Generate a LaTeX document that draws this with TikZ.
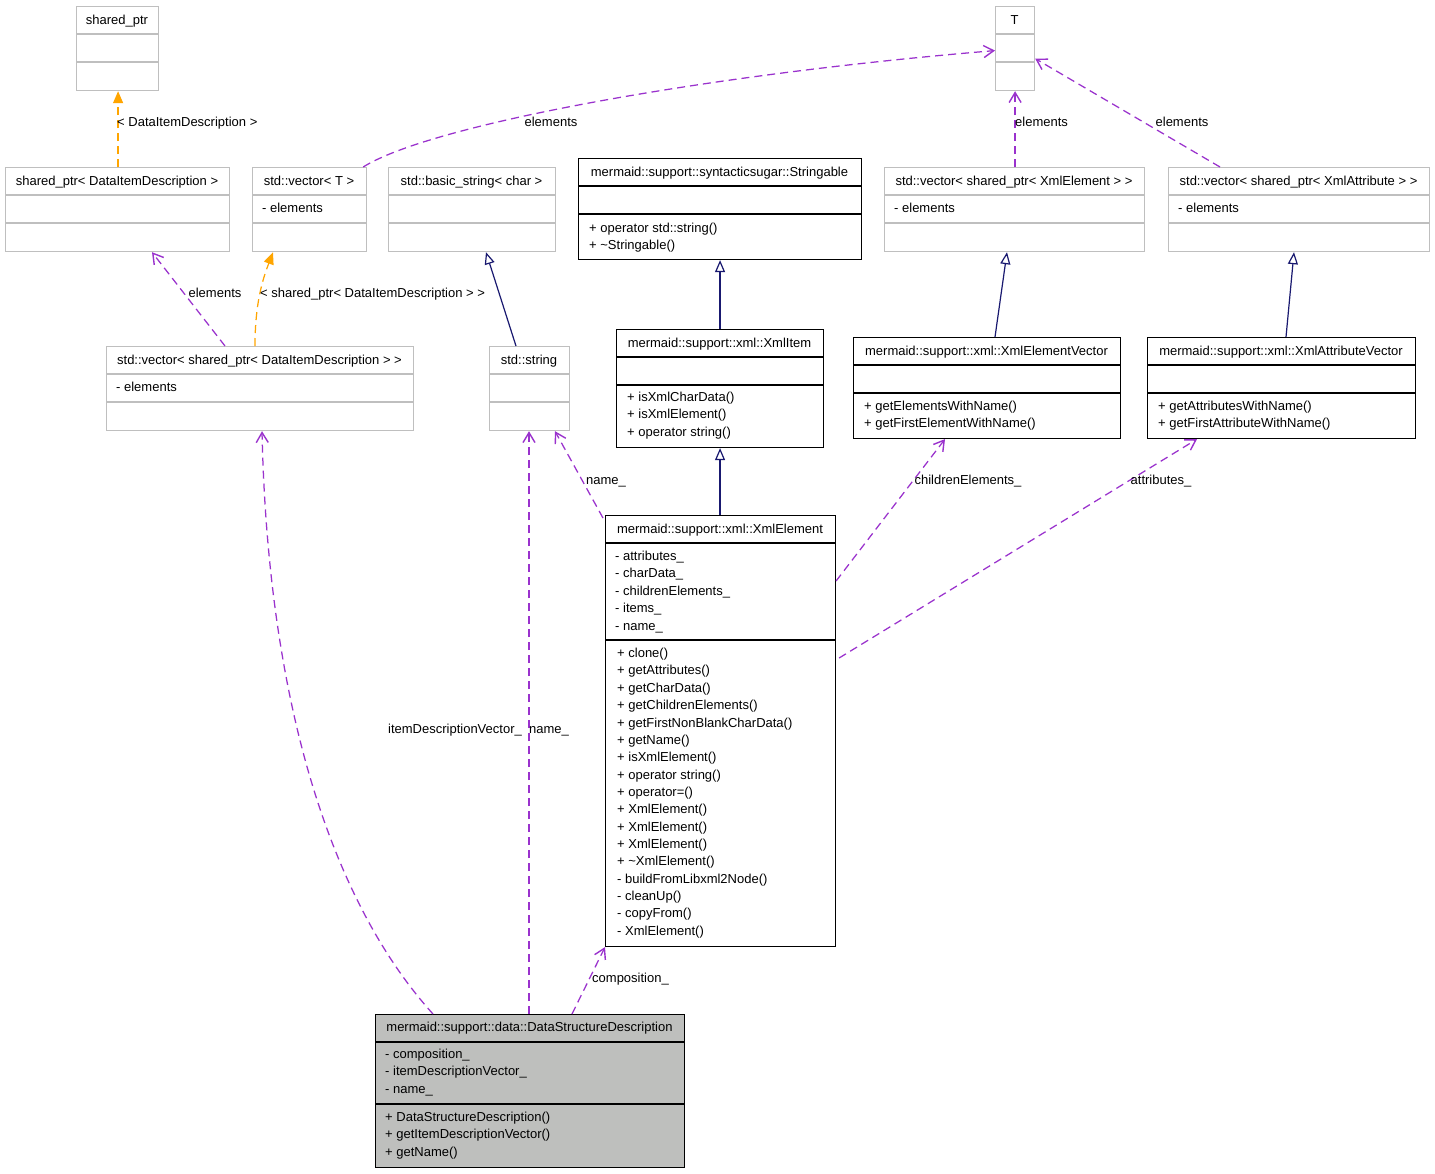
\documentclass[tikz,border=0pt]{standalone}
\usepackage{fontspec}
\setmainfont{Liberation Sans}
\usetikzlibrary{arrows.meta,calc}
\definecolor{purp}{HTML}{9A32CD}
\definecolor{orng}{HTML}{FFA500}
\definecolor{navyc}{HTML}{191970}
\definecolor{boxgray}{HTML}{BFBFBF}
\definecolor{dsdfill}{HTML}{BEBFBD}
\newcommand\cbox[8]{%
  \node[#2, minimum width=#5pt, minimum height=#6pt] (#1) at (#3,#4) {};
  \draw[#2line] ($(#1.north west)+(0,#7)$) -- ($(#1.north east)+(0,#7)$);
  \draw[#2line] ($(#1.north west)+(0,#8)$) -- ($(#1.north east)+(0,#8)$);}
\newcommand\mlines[4]{%
  \foreach \mtext [count=\i] in {#4} {\node[lbl, anchor=west] (#1\i) at (#2, {#3+(\i-1)*17.35}) {\mtext};}}
\begin{document}
\begin{tikzpicture}[x=1pt,y=-1pt,
  lbl/.style={font=\fontsize{13}{15}\selectfont, inner sep=0pt, text height=9.3pt, text depth=2.7pt, yshift=-1.3pt},
  graybox/.style={draw=boxgray, line width=1.2pt, rectangle, inner sep=0pt, anchor=north west},
  grayboxline/.style={draw=boxgray, line width=1.2pt},
  blackbox/.style={draw=black, line width=1.1pt, rectangle, inner sep=0pt, anchor=north west},
  blackboxline/.style={draw=black, line width=1.1pt},
  dsdbox/.style={draw=black, fill=dsdfill, line width=1.1pt, rectangle, inner sep=0pt, anchor=north west},
  dsdboxline/.style={draw=black, line width=1.1pt},
  usage/.style={draw=purp, line width=1.25pt, dash pattern=on 8pt off 5pt, -{Straight Barb[length=10pt,width=12pt,line width=1.4pt]}},
  tmpl/.style={draw=orng, line width=1.25pt, dash pattern=on 8pt off 5pt, -{Triangle[length=12pt,width=10pt,fill=orng]}},
  inh/.style={draw=navyc, line width=1.2pt, -{Triangle[open,length=12pt,width=10pt,fill=white]}}]
\fill[white] (0,0) rectangle (1435,1173);
\useasboundingbox (0,0) rectangle (1435,1173);

% ---- boxes
\cbox{sp}{graybox}{76}{6}{82}{84}{28}{56}
\cbox{spd}{graybox}{5}{167}{224}{84}{28}{56}
\cbox{vecT}{graybox}{252}{167}{114}{84}{28}{56}
\cbox{bstr}{graybox}{388}{167}{167}{84}{28}{56}
\cbox{strg}{blackbox}{578}{158}{283}{101}{28}{56}
\cbox{T}{graybox}{995}{6}{39}{84}{28}{56}
\cbox{vxe}{graybox}{884}{167}{260}{84}{28}{56}
\cbox{vxa}{graybox}{1168}{167}{261}{84}{28}{56}
\cbox{vdid}{graybox}{106}{346}{307}{84}{28}{56}
\cbox{str}{graybox}{489}{346}{80}{84}{28}{56}
\cbox{xi}{blackbox}{616}{329}{207}{118}{28}{56}
\cbox{xev}{blackbox}{853}{337}{267}{101}{28}{56}
\cbox{xav}{blackbox}{1147}{337}{268}{101}{28}{56}
\cbox{xe}{blackbox}{605}{515}{230}{431}{28}{125}
\cbox{dsd}{dsdbox}{375}{1014}{309}{153}{28}{90}

% ---- box texts
\node[lbl] (spH) at (117,20) {shared\_ptr};
\node[lbl] (spdH) at (117,181) {shared\_ptr< DataItemDescription >};
\node[lbl] (vecTH) at (309,181) {std::vector< T >};
\mlines{vecTa}{262}{208}{- elements}
\node[lbl] (bstrH) at (471.5,181) {std::basic\_string< char >};
\node[lbl] (strgH) at (719.5,172) {mermaid::support::syntacticsugar::Stringable};
\mlines{strgm}{589}{228}{+ operator std::string(),+ {\textasciitilde}Stringable()}
\node[lbl] (TH) at (1014.5,20) {T};
\node[lbl] (vxeH) at (1014,181) {std::vector< shared\_ptr< XmlElement > >};
\mlines{vxea}{894}{208}{- elements}
\node[lbl] (vxaH) at (1298.5,181) {std::vector< shared\_ptr< XmlAttribute > >};
\mlines{vxaa}{1178}{208}{- elements}
\node[lbl] (vdidH) at (259.5,360) {std::vector< shared\_ptr< DataItemDescription > >};
\mlines{vdida}{116}{387}{- elements}
\node[lbl] (strH) at (529,360) {std::string};
\node[lbl] (xiH) at (719.5,343) {mermaid::support::xml::XmlItem};
\mlines{xim}{627}{397}{+ isXmlCharData(),+ isXmlElement(),+ operator string()}
\node[lbl] (xevH) at (986.5,351) {mermaid::support::xml::XmlElementVector};
\mlines{xevm}{864}{406}{+ getElementsWithName(),+ getFirstElementWithName()}
\node[lbl] (xavH) at (1281,351) {mermaid::support::xml::XmlAttributeVector};
\mlines{xavm}{1158}{406}{+ getAttributesWithName(),+ getFirstAttributeWithName()}
\node[lbl] (xeH) at (720,529) {mermaid::support::xml::XmlElement};
\mlines{xea}{615}{556}{- attributes\_,- charData\_,- childrenElements\_,- items\_,- name\_}
\mlines{xem}{617}{653}{+ clone(),+ getAttributes(),+ getCharData(),+ getChildrenElements(),+ getFirstNonBlankCharData(),+ getName(),+ isXmlElement(),+ operator string(),+ operator=(),+ XmlElement(),+ XmlElement(),+ XmlElement(),+ {\textasciitilde}XmlElement(),- buildFromLibxml2Node(),- cleanUp(),- copyFrom(),- XmlElement()}
\node[lbl] (dsdH) at (529.5,1027) {mermaid::support::data::DataStructureDescription};
\mlines{dsda}{385}{1054}{- composition\_,- itemDescriptionVector\_,- name\_}
\mlines{dsdm}{385}{1117}{+ DataStructureDescription(),+ getItemDescriptionVector(),+ getName()}

% ---- connectors
\draw[tmpl] ($(spd.north)+(0.5,0)$) -- ($(sp.south)+(0.5,0)$);
\node[lbl, anchor=west] (l1) at (117,122) {< DataItemDescription >};

\draw[usage] ($(vecT.north east)+(-4,0)$) .. controls (430,125) and (700,75) .. ($(T.west)+(0,2)$);
\node[lbl] (l2) at (551,122) {elements};

\draw[usage] (vxe.north -| T.south) -- (T.south);
\node[lbl, anchor=west] (l3) at (1015,122) {elements};

\draw[usage] ($(vxa.north west)+(52,0)$) -- ($(T.east)+(0,10)$);
\node[lbl] (l4) at (1182,122) {elements};

\draw[usage] ($(vdid.north west)+(119,0)$) -- ($(spd.south west)+(147,0)$);
\node[lbl] (l5) at (215,293) {elements};

\draw[tmpl] ($(vdid.north west)+(149,0)$) .. controls (255,300) and (264,276) .. ($(vecT.south west)+(21,0)$);
\node[lbl, anchor=west] (l6) at (260,293) {< shared\_ptr< DataItemDescription > >};

\draw[inh] ($(str.north west)+(27,0)$) -- ($(bstr.south west)+(98,0)$);
\draw[inh] (xi.north) -- (xi.north |- strg.south);
\draw[inh] (xe.north -| xi.south) -- (xi.south);
\draw[inh] ($(xev.north west)+(142,0)$) -- ($(vxe.south west)+(123,0)$);
\draw[inh] ($(xav.north west)+(139,0)$) -- ($(vxa.south west)+(126,0)$);

\draw[usage] ($(xe.north west)+(-2,3)$) -- ($(str.south west)+(66,0)$);
\node[lbl] (l7) at (606,480) {name\_};

\draw[usage] ($(xe.north east)+(0,66)$) -- ($(xev.south west)+(92,0)$);
\node[lbl] (l8) at (968,480) {childrenElements\_};

\draw[usage] ($(xe.north east)+(3,143)$) -- ($(xav.south west)+(50,0)$);
\node[lbl] (l9) at (1161,480) {attributes\_};

\draw[usage] ($(dsd.north west)+(58,0)$) .. controls (330,900) and (268,700) .. ($(vdid.south west)+(156,0)$);
\node[lbl] (l10) at (455,729) {itemDescriptionVector\_};

\draw[usage] ($(dsd.north west)+(154,0)$) -- ($(str.south west)+(40,0)$);
\node[lbl, anchor=west] (l11) at (529,729) {name\_};

\draw[usage] ($(dsd.north west)+(197,0)$) -- (xe.south west);
\node[lbl, anchor=west] (l12) at (592,978) {composition\_};
\end{tikzpicture}
\end{document}
